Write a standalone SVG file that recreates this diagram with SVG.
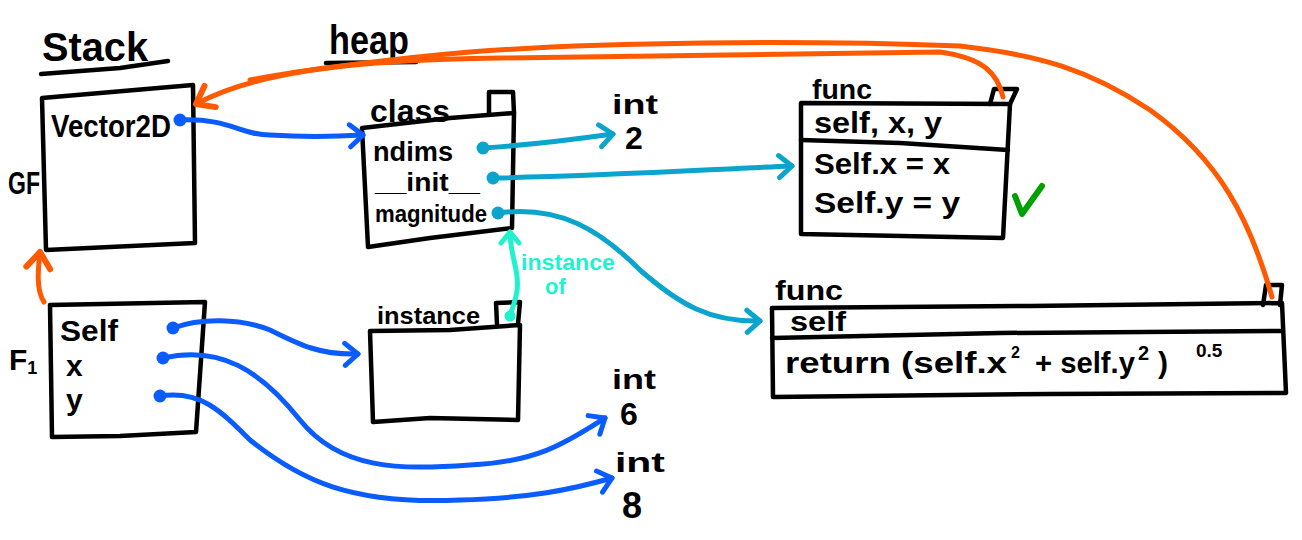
<svg xmlns="http://www.w3.org/2000/svg" width="1302" height="540" viewBox="0 0 1302 540">
<style>
.box{fill:none;stroke:#000;stroke-width:4.5;stroke-linejoin:round;stroke-linecap:round}
.t{font-family:"Liberation Sans",Arial,sans-serif;font-weight:bold;fill:#000}
.blue{fill:none;stroke:#0a5cff;stroke-width:5;stroke-linecap:round}
.teal{fill:none;stroke:#0aa4cc;stroke-width:5;stroke-linecap:round}
.mint{fill:none;stroke:#1ff2cf;stroke-width:5;stroke-linecap:round}
.orange{fill:none;stroke:#ff5a00;stroke-width:5;stroke-linecap:round}
.mt{font-family:"Liberation Sans",Arial,sans-serif;font-weight:bold;fill:#1ff2cf}
</style>
<defs>
<marker id="ab" viewBox="-16 -14 20 28" refX="0" refY="0" markerWidth="20" markerHeight="28" markerUnits="userSpaceOnUse" orient="auto"><path d="M-13,-11 L0,0 L-13,11" fill="none" stroke="#0a5cff" stroke-width="5" stroke-linecap="round" stroke-linejoin="round"/></marker>
<marker id="at" viewBox="-16 -14 20 28" refX="0" refY="0" markerWidth="20" markerHeight="28" markerUnits="userSpaceOnUse" orient="auto"><path d="M-13,-11 L0,0 L-13,11" fill="none" stroke="#0aa4cc" stroke-width="5" stroke-linecap="round" stroke-linejoin="round"/></marker>
<marker id="am" viewBox="-16 -14 20 28" refX="0" refY="0" markerWidth="20" markerHeight="28" markerUnits="userSpaceOnUse" orient="auto"><path d="M-11,-9 L0,0 L-11,9" fill="none" stroke="#1ff2cf" stroke-width="5" stroke-linecap="round" stroke-linejoin="round"/></marker>
<marker id="ao" viewBox="-20 -16 24 32" refX="0" refY="0" markerWidth="24" markerHeight="32" markerUnits="userSpaceOnUse" orient="auto"><path d="M-16,-12 L0,0 L-16,12" fill="none" stroke="#ff5a00" stroke-width="6" stroke-linecap="round" stroke-linejoin="round"/></marker>
<marker id="db" viewBox="-8 -8 16 16" refX="0" refY="0" markerWidth="16" markerHeight="16" markerUnits="userSpaceOnUse"><circle r="6.5" fill="#0a5cff"/></marker>
<marker id="dt" viewBox="-8 -8 16 16" refX="0" refY="0" markerWidth="16" markerHeight="16" markerUnits="userSpaceOnUse"><circle r="6.5" fill="#0aa4cc"/></marker>
<marker id="dm" viewBox="-8 -8 16 16" refX="0" refY="0" markerWidth="16" markerHeight="16" markerUnits="userSpaceOnUse"><circle r="5.5" fill="#1ff2cf"/></marker>
</defs>
<rect width="1302" height="540" fill="#fff"/>

<g id="titles">
<text class="t" x="42" y="61" font-size="40" textLength="106" lengthAdjust="spacingAndGlyphs">Stack</text>
<path class="box" d="M41,74 L120,68 L168,61"/>
<text class="t" x="329" y="54" font-size="40" textLength="80" lengthAdjust="spacingAndGlyphs">heap</text>
<path class="box" d="M326,63 L416,62"/>
</g>

<g id="gf">
<text class="t" x="8" y="194" font-size="32" textLength="32" lengthAdjust="spacingAndGlyphs">GF</text>
<path class="box" d="M42,98 L193,85 L195,243 L46,250 Z"/>
<text class="t" x="51" y="137" font-size="32" textLength="120" lengthAdjust="spacingAndGlyphs">Vector2D</text>
</g>

<g id="f1">
<text class="t" x="9" y="370" font-size="30">F<tspan font-size="18" dy="4">1</tspan></text>
<path class="box" d="M50,305 L205,302 L196,432 L120,436 L52,437 Z"/>
<text class="t" x="60" y="341" font-size="30" textLength="58" lengthAdjust="spacingAndGlyphs">Self</text>
<text class="t" x="66" y="376" font-size="30">x</text>
<text class="t" x="66" y="410" font-size="30">y</text>
</g>

<g id="class">
<text class="t" x="370" y="122" font-size="32" textLength="80" lengthAdjust="spacingAndGlyphs">class</text>
<path class="box" d="M489,113 L489,92 L513,92 L514,113"/>
<path class="box" d="M362,128 L450,118 L514,113 L512,228 L430,238 L368,247 Z"/>
<text class="t" x="373" y="161" font-size="28" textLength="80" lengthAdjust="spacingAndGlyphs">ndims</text>
<text class="t" x="375" y="191" font-size="26" textLength="105" lengthAdjust="spacingAndGlyphs">__init__</text>
<text class="t" x="375" y="222" font-size="24" textLength="112" lengthAdjust="spacingAndGlyphs">magnitude</text>
</g>

<g id="int2">
<text class="t" x="612" y="114" font-size="28" textLength="46" lengthAdjust="spacingAndGlyphs">int</text>
<text class="t" x="625" y="149" font-size="32">2</text>
</g>

<g id="instance">
<text class="t" x="377" y="324" font-size="24" textLength="103" lengthAdjust="spacingAndGlyphs">instance</text>
<path class="box" d="M497,324 L496,303 L520,302 L518,324"/>
<path class="box" d="M370,331 L450,330 L520,325 L518,420 L430,418 L373,422 Z"/>
</g>

<g id="int6">
<text class="t" x="612" y="389" font-size="27" textLength="44" lengthAdjust="spacingAndGlyphs">int</text>
<text class="t" x="620" y="425" font-size="32">6</text>
</g>
<g id="int8">
<text class="t" x="615" y="472" font-size="27" textLength="50" lengthAdjust="spacingAndGlyphs">int</text>
<text class="t" x="622" y="518" font-size="36">8</text>
</g>

<g id="func1">
<text class="t" x="812" y="99" font-size="28" textLength="60" lengthAdjust="spacingAndGlyphs">func</text>
<path class="box" d="M990,104 L994,89 L1017,89 L1010,104"/>
<path class="box" d="M801,103 L1010,104 L1003,238 L801,234 Z"/>
<path class="box" d="M801,140 L900,143 L1008,150"/>
<text class="t" x="814" y="133" font-size="30" textLength="128" lengthAdjust="spacingAndGlyphs">self, x, y</text>
<text class="t" x="814" y="174" font-size="30" textLength="136" lengthAdjust="spacingAndGlyphs">Self.x = x</text>
<text class="t" x="814" y="213" font-size="30" textLength="146" lengthAdjust="spacingAndGlyphs">Self.y = y</text>
<path d="M1015,196 L1022,214 L1042,186" fill="none" stroke="#00a000" stroke-width="6" stroke-linecap="round" stroke-linejoin="round"/>
</g>

<g id="func2">
<text class="t" x="775" y="300" font-size="28" textLength="68" lengthAdjust="spacingAndGlyphs">func</text>
<path class="box" d="M1263,305 L1266,285 L1282,285 L1280,305"/>
<path class="box" d="M772,308 L1030,306 L1282,303 L1286,393 L1050,394 L773,397 Z"/>
<path class="box" d="M772,338 L1000,333 L1283,331"/>
<text class="t" x="790" y="331" font-size="28" textLength="56" lengthAdjust="spacingAndGlyphs">self</text>
<text class="t" x="785" y="373" font-size="30" textLength="222" lengthAdjust="spacingAndGlyphs">return (self.x</text>
<text class="t" x="1011" y="358" font-size="16">2</text>
<text class="t" x="1035" y="373" font-size="30" textLength="100" lengthAdjust="spacingAndGlyphs">+ self.y</text>
<text class="t" x="1138" y="360" font-size="20">2</text>
<text class="t" x="1158" y="373" font-size="30">)</text>
<text class="t" x="1196" y="357" font-size="19">0.5</text>
</g>

<g id="connectors">
<path class="blue" marker-start="url(#db)" marker-end="url(#ab)" d="M180,120 C230,118 240,135 270,135 C300,137 330,137 363,135"/>
<path class="teal" marker-start="url(#dt)" marker-end="url(#at)" d="M483,148 C530,145 570,140 613,134"/>
<path class="teal" marker-start="url(#dt)" marker-end="url(#at)" d="M493,178 C600,176 700,170 792,166"/>
<path class="teal" marker-start="url(#dt)" marker-end="url(#at)" d="M498,213 C560,205 600,230 640,270 C680,305 710,322 760,321"/>
<path class="mint" marker-start="url(#dm)" marker-end="url(#am)" d="M510,316 C515,300 520,290 516,270 C513,255 510,245 510,232"/>
<text class="mt" x="521" y="270" font-size="22" textLength="94" lengthAdjust="spacingAndGlyphs">instance</text>
<text class="mt" x="545" y="294" font-size="22">of</text>
<path class="blue" marker-start="url(#db)" marker-end="url(#ab)" d="M173,328 C200,318 240,318 270,330 C300,345 320,355 358,354"/>
<path class="blue" marker-start="url(#db)" marker-end="url(#ab)" d="M163,358 C220,345 260,370 300,420 C340,470 400,470 470,465 C540,462 570,440 605,418"/>
<path class="blue" marker-start="url(#db)" marker-end="url(#ab)" d="M160,396 C200,390 220,410 250,440 C300,480 350,505 460,500 C530,498 570,490 612,478"/>
<path class="orange" marker-end="url(#ao)" d="M44,302 C36,290 38,270 40,252"/>
<path class="orange" marker-end="url(#ao)" d="M1003,97 C998,75 985,58 940,52 C800,54 650,56 500,58 C360,60 260,70 196,104"/>
<path class="orange" d="M1272,297 C1250,220 1220,160 1150,110 C1090,70 1040,55 960,46 C800,40 600,42 470,52 C400,58 300,70 250,80"/>
</g>
</svg>
